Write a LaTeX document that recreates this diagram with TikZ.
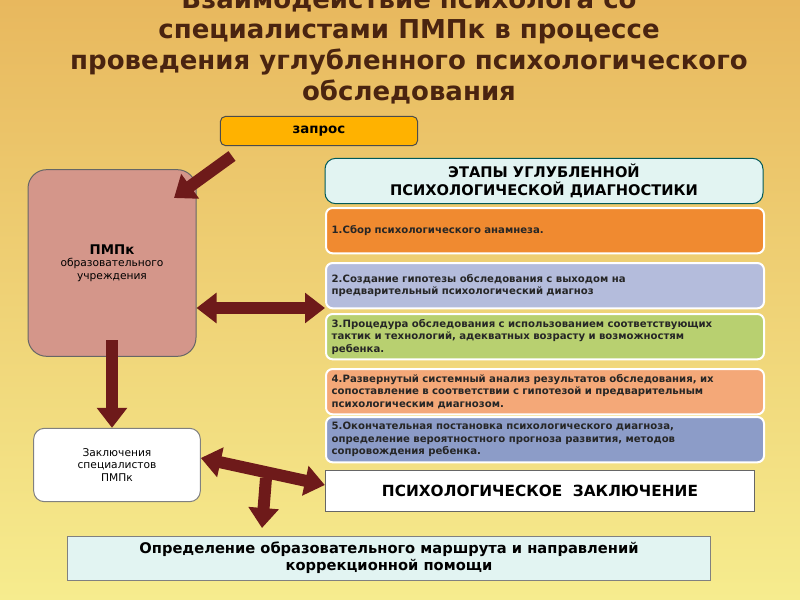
\documentclass[tikz,border=0pt]{standalone}
\usepackage{fontspec}
\setmainfont{DejaVu Sans}
\usetikzlibrary{arrows.meta,positioning}
\definecolor{bgtop}{HTML}{E8B85E}
\definecolor{bgbot}{HTML}{F6EC8E}
\definecolor{titlec}{HTML}{4A2410}
\definecolor{arrowc}{HTML}{6E1A1A}
\definecolor{stepa}{HTML}{F08A30}
\definecolor{stepb}{HTML}{B4BCDC}
\definecolor{stepc}{HTML}{B8D070}
\definecolor{stepd}{HTML}{F4A878}
\definecolor{stepe}{HTML}{8C9CC8}
\definecolor{headc}{HTML}{E2F4F2}
\definecolor{pmpkc}{HTML}{D4968A}
\tikzset{
  every picture/.style={line width=0.75pt},
  stepbox/.style={draw=white, line width=1.5pt, rounded corners=5pt, minimum width=328.5pt, minimum height=34pt, text width=320pt, align=left, anchor=north west, inner sep=3pt, font=\fontsize{7.6}{9.4}\selectfont\bfseries, text=black!85},
  blockarr/.style={draw=arrowc, line width=9pt, -{Triangle[length=15pt,width=22pt]}},
  blockdbl/.style={draw=arrowc, line width=9pt, {Triangle[length=15pt,width=22pt]}-{Triangle[length=15pt,width=22pt]}},
}
\begin{document}
\begin{tikzpicture}[x=0.75pt,y=0.75pt,yscale=-1,xscale=1]
\useasboundingbox (0,0) rectangle (800,600);
\clip (0,0) rectangle (800,600);
%background
\shade[top color=bgtop, bottom color=bgbot] (0,0) rectangle (800,600);

%title
\node[font=\fontsize{19.5}{23}\selectfont\bfseries, text=titlec, align=center] (title) at (409,46) {Взаимодействие психолога со\\специалистами ПМПк в процессе\\проведения углубленного психологического\\обследования};

%request
\node[draw=black!70, fill=orange!60!yellow, rounded corners=4pt, minimum width=148pt, minimum height=22pt, font=\fontsize{10}{12}\selectfont\bfseries] (zapros) at (319,131) {запрос};

%pmpk
\node[draw=black!60, fill=pmpkc, rounded corners=14pt, minimum width=126pt, minimum height=140pt, align=center, font=\footnotesize] (pmpk) at (112,263) {\textbf{\normalsize ПМПк}\\образовательного\\учреждения};

%header
\node[draw=teal!70!black, fill=headc, rounded corners=8pt, minimum width=328.5pt, minimum height=34pt, align=center, font=\fontsize{11}{13}\selectfont\bfseries] (head) at (544,181) {ЭТАПЫ УГЛУБЛЕННОЙ\\ПСИХОЛОГИЧЕСКОЙ ДИАГНОСТИКИ};

%steps
\node[stepbox, fill=stepa] (s1) at (325,207) {1.Сбор психологического анамнеза.};
\node[stepbox, fill=stepb] (s2) at (325,262) {2.Создание гипотезы обследования с выходом на\\предварительный психологический диагноз};
\node[stepbox, fill=stepc] (s3) at (325,313) {3.Процедура обследования с использованием соответствующих\\тактик и технологий, адекватных возрасту и возможностям\\ребенка.};
\node[stepbox, fill=stepd] (s4) at (325,368) {4.Развернутый системный анализ результатов обследования, их\\сопоставление в соответствии с гипотезой и предварительным\\психологическим диагнозом.};
\node[stepbox, fill=stepe] (s5) at (325,416) {5.Окончательная постановка психологического диагноза,\\определение вероятностного прогноза развития, методов\\сопровождения ребенка.};

%conclusion
\node[draw=black!60, fill=white, minimum width=322pt, minimum height=31pt, font=\fontsize{11.5}{13}\selectfont\bfseries] (concl) at (540,491) {ПСИХОЛОГИЧЕСКОЕ\ \ ЗАКЛЮЧЕНИЕ};

%specialists
\node[draw=black!50, fill=white, rounded corners=8pt, minimum width=125pt, minimum height=55pt, align=center, font=\footnotesize] (spec) at (117,465) {Заключения\\специалистов\\ПМПк};

%route
\node[draw=black!50, fill=headc, minimum width=482pt, minimum height=33pt, align=center, font=\fontsize{11}{13}\selectfont\bfseries] (route) at (389,558) {Определение образовательного маршрута и направлений\\коррекционной помощи};

%arrows
\coordinate (a1) at (232,156);
\draw[blockarr] (a1) -- (174,198);
\draw[blockdbl] (pmpk.east |- 0,308) -- (s2.west |- 0,308);
\draw[blockarr] (112,340) -- (spec.north -| 112,0);
\coordinate (t1) at (266,478);
\draw[blockdbl] (spec.east |- 0,458) -- (concl.west |- 0,485);
\draw[blockarr] (t1) -- (262,528);
\end{tikzpicture}
\end{document}
